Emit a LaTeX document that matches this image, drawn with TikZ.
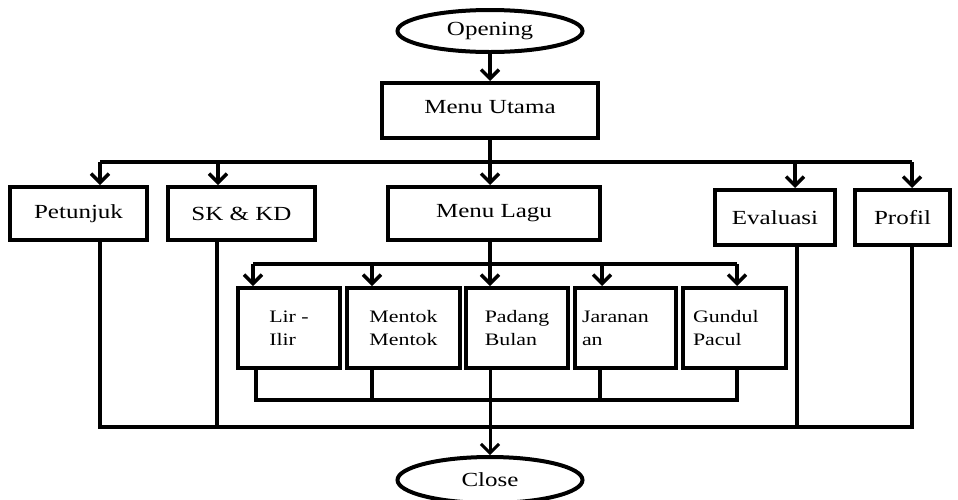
\documentclass[tikz,border=0pt]{standalone}
\usepackage{fontspec}
\setmainfont[FakeStretch=1.25]{Liberation Serif}
\usetikzlibrary{arrows.meta,shapes.geometric}
\begin{document}
\begin{tikzpicture}[x=1pt,y=-1pt,
  box/.style={draw,line width=4pt,rectangle,inner sep=0pt,font=\fontsize{20}{24}\selectfont},
  sub/.style={draw,line width=4pt,rectangle,inner sep=0pt,align=left,minimum height=80pt,font=\fontsize{17.5}{23}\selectfont},
  term/.style={draw,ellipse,line width=4pt,inner sep=0pt,font=\fontsize{20}{24}\selectfont},
  conn/.style={line width=3.5pt},
  arr/.style={conn,-{Straight Barb[length=9pt,width=18pt]}},
]
\useasboundingbox (0,0) rectangle (958,499);
% nodes
\node[term,minimum width=185pt,minimum height=42pt] (open) at (490,31) {Opening};
\node[box,minimum width=216pt,minimum height=55pt,text depth=8pt] (utama) at (490,110.5) {Menu Utama};
\node[box,minimum width=137pt,minimum height=53pt] (pet) at (78.5,213.5) {Petunjuk};
\node[box,minimum width=147pt,minimum height=53pt] (sk) at (241.5,213.5) {SK \& KD};
\node[box,minimum width=212pt,minimum height=53pt] (lagu) at (494,213.5) {Menu Lagu};
\node[box,minimum width=120pt,minimum height=55pt] (eval) at (775,217.5) {Evaluasi};
\node[box,minimum width=95pt,minimum height=55pt] (prof) at (902.5,217.5) {Profil};
\node[sub,minimum width=102pt] (lir) at (289,328) {Lir -\\Ilir};
\node[sub,minimum width=113pt] (men) at (403.5,328) {Mentok\\Mentok};
\node[sub,minimum width=102pt] (pad) at (517,328) {Padang\\Bulan};
\node[sub,minimum width=101pt,inner xsep=7pt,text width=87pt] (jar) at (625.5,328) {Jaranan\\an};
\node[sub,minimum width=103pt,inner xsep=10pt,text width=83pt] (gun) at (734.5,328) {Gundul\\Pacul};
\node[term,minimum width=185pt,minimum height=46pt] (close) at (490,480) {Close};
% coordinates
\coordinate (t1) at (100,162); \coordinate (t2) at (218,162);
\coordinate (t3) at (490,162); \coordinate (t4) at (795,162);
\coordinate (t5) at (912,162);
\coordinate (s1) at (253,264); \coordinate (s2) at (372,264);
\coordinate (s3) at (490,264); \coordinate (s4) at (602,264);
\coordinate (s5) at (737,264);
\coordinate (u1) at (256,400); \coordinate (u2) at (372,400);
\coordinate (u4) at (600,400); \coordinate (u5) at (737,400);
\coordinate (w1) at (100,427); \coordinate (w2) at (217,427);
\coordinate (w4) at (797,427); \coordinate (w5) at (912,427);
% connectors
\draw[arr] (open.south) -- (utama.north);
\draw[conn] (t1) -- (t5);
\draw[arr] (utama.south) -- (utama.south |- lagu.north);
\draw[arr] (t1) -- (t1 |- pet.north);
\draw[arr] (t2) -- (t2 |- sk.north);
\draw[arr] (t4) -- (t4 |- eval.north);
\draw[arr] (t5) -- (t5 |- prof.north);
\draw[conn] (s3 |- lagu.south) -- (s3);
\draw[conn] (s1) -- (s5);
\draw[arr] (s1) -- (s1 |- lir.north);
\draw[arr] (s2) -- (s2 |- men.north);
\draw[arr] (s3) -- (s3 |- pad.north);
\draw[arr] (s4) -- (s4 |- jar.north);
\draw[arr] (s5) -- (s5 |- gun.north);
\draw[conn] (u1 |- lir.south) -- (u1) -- (u5) -- (u5 |- gun.south);
\draw[conn] (u2 |- men.south) -- (u2);
\draw[conn] (u4 |- jar.south) -- (u4);
\draw[conn] (w1 |- pet.south) -- (w1) -- (w5) -- (w5 |- prof.south);
\draw[conn] (w2 |- sk.south) -- (w2);
\draw[conn] (w4 |- eval.south) -- (w4);
\draw[arr,line width=3pt] (s3 |- pad.south) -- (close.north);
\end{tikzpicture}
\end{document}
